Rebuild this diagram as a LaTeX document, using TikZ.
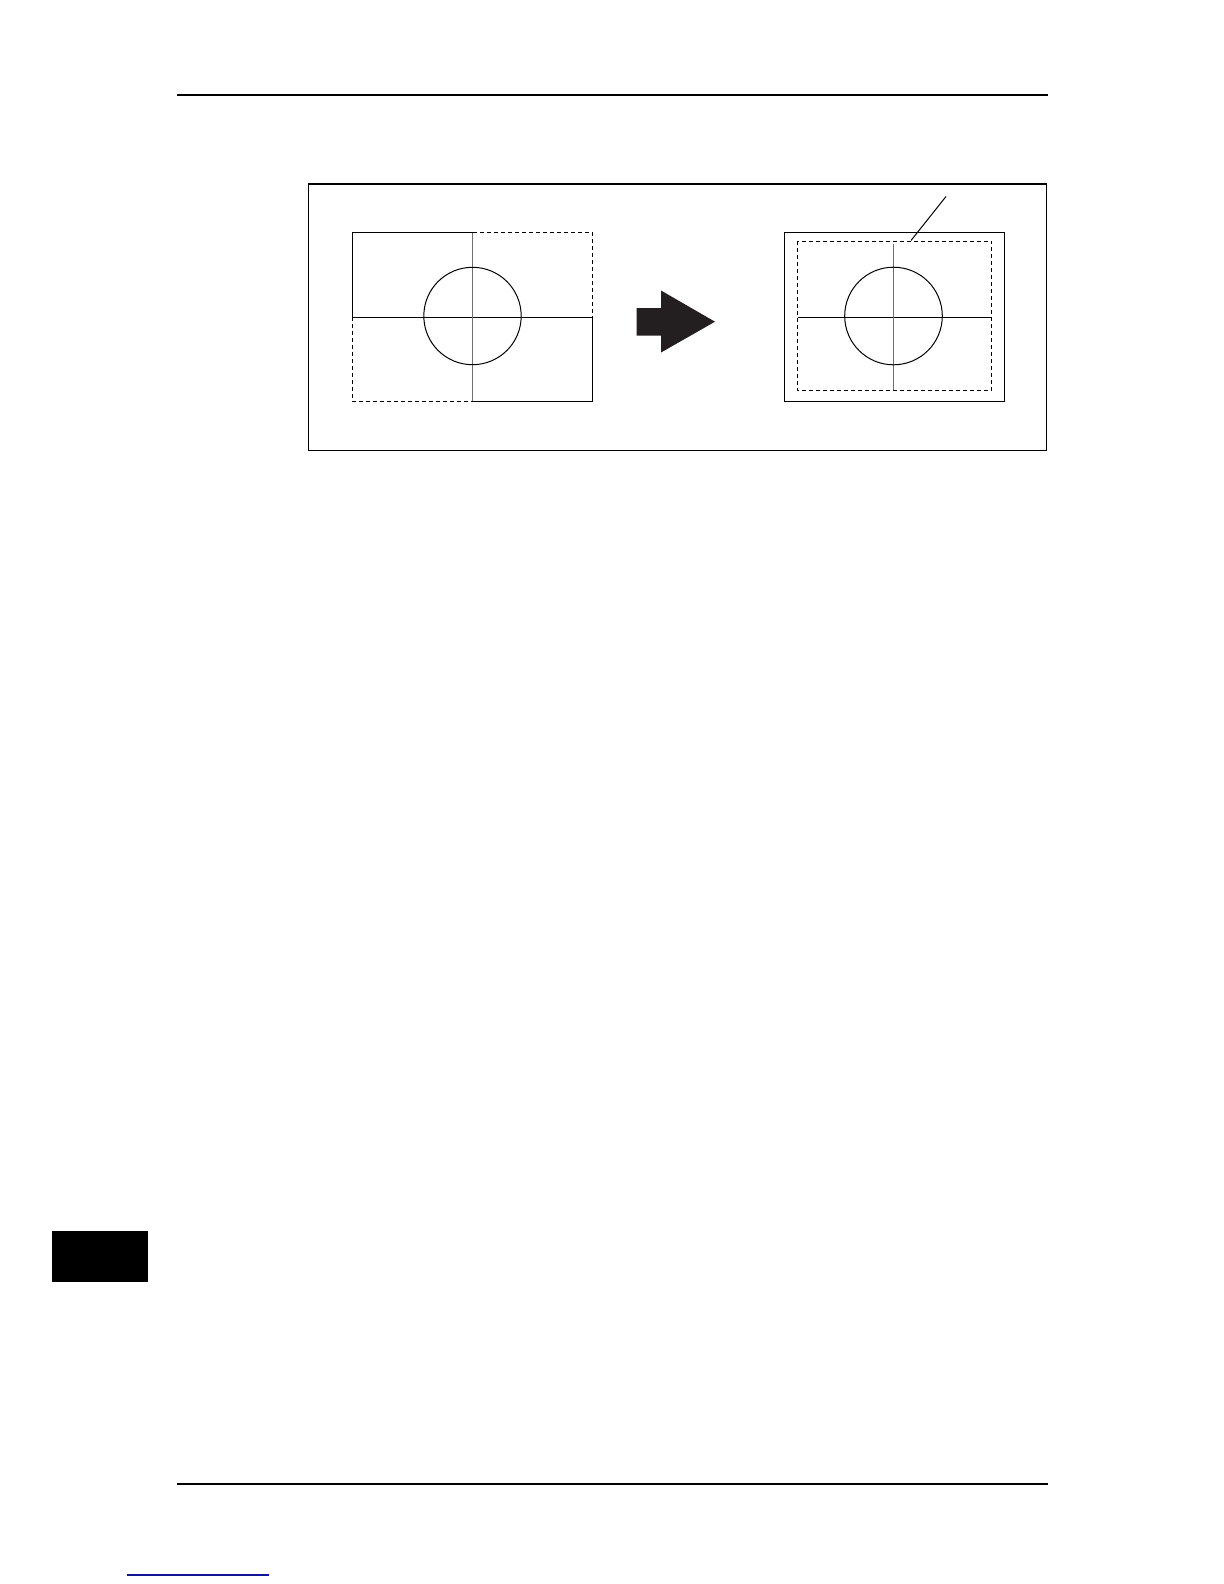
\documentclass[tikz,border=0pt]{standalone}
\usepackage{tikz}

\tikzset{every picture/.style={line width=0.5pt}}
\tikzset{
  dashbox/.style={dash pattern=on 2pt off 1.5pt, line width=0.5pt},
  crossline/.style={color={rgb, 255:red, 110; green, 110; blue, 110 }, line width=0.55pt},
  pagerule/.style={line width=0.7pt}
}

\begin{document}
\begin{tikzpicture}[x=0.5pt,y=0.5pt,yscale=-1,xscale=1]
\path[use as bounding box] (0,0) rectangle (1224,1584); %page size 1224 x 1584

% page rules and tab
\draw [pagerule] (177,95) -- (1048,95) ;
\draw [pagerule] (177,1484) -- (1048,1484) ;
\fill [black] (52,1231) rectangle (148,1282) ;
\draw [color={rgb, 255:red, 20; green, 20; blue, 150 } ,line width=0.6pt] (127,1575) -- (269,1575) ;

% frame
\draw (308,183.5) rectangle (1046,450) ;
\draw [line width=1pt] (308,183.5) -- (1046,183.5) ;

% left: original image
\draw [dashbox] (352.5,232.5) rectangle (592.5,401) ;
\draw (352.5,232.5) rectangle (472.5,317) ;
\draw (472.5,317) rectangle (592.5,401) ;
\draw (352.5,317) -- (592.5,317) ;
\draw [crossline] (472.5,232.5) -- (472.5,401) ;
\draw (472.5,316) circle [x radius= 48.7, y radius= 48.7] ;

% arrow
\fill [color={rgb, 255:red, 35; green, 31; blue, 32 }] (636.5,308) -- (661,308) -- (661,290.5) -- (715,321.7) -- (661,352.5) -- (661,335.5) -- (636.5,335.5) -- cycle ;

% right: result
\draw (784.5,232.5) rectangle (1004,401) ;
\draw [dashbox] (797.5,241) rectangle (991.5,390.5) ;
\draw (797.5,317) -- (991.5,317) ;
\draw [crossline] (893.5,244) -- (893.5,390) ;
\draw (893.5,316) circle [x radius= 48.8, y radius= 48.8] ;

% leader
\coordinate (edge) at (911,240.5) ;
\coordinate (leadend) at (946,196.5) ;
\draw (edge) -- (leadend) ;

\end{tikzpicture}
\end{document}
